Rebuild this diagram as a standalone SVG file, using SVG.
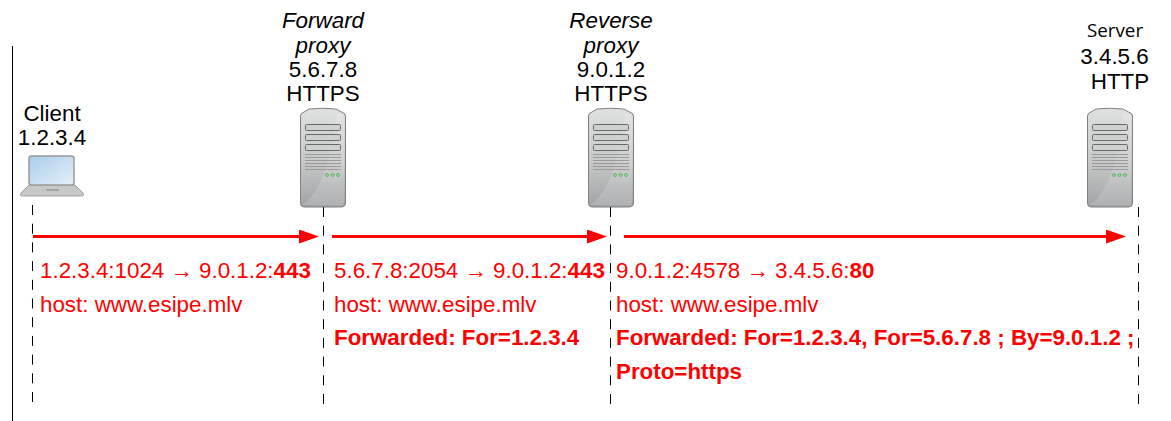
<svg xmlns="http://www.w3.org/2000/svg" xmlns:xlink="http://www.w3.org/1999/xlink" width="1171" height="421" viewBox="0 0 1171 421">
<style>
text{font-family:"Liberation Sans",Arial,sans-serif;fill:#000}
.h{font-size:22.4px;text-anchor:middle}
.i{font-style:italic}
.r{font-size:22.35px;fill:#f00}
.b{font-weight:bold}
.life{stroke:#000;stroke-width:1;stroke-dasharray:10 8.7;fill:none}
.arrow{stroke:#f00;stroke-width:3;fill:none;marker-end:url(#ah)}
</style>
<defs>
<marker id="ah" markerUnits="userSpaceOnUse" markerWidth="21" markerHeight="14" refX="0" refY="7" orient="auto"><path d="M0 0L20 7L0 14Z" fill="#f00"/></marker>
<linearGradient id="sv" x1="0" x2="0" y1="0" y2="1"><stop offset="0" stop-color="#dfe1e1"/><stop offset="0.55" stop-color="#c6c8c8"/><stop offset="1" stop-color="#a0a2a4"/></linearGradient>
<linearGradient id="sc" x1="0" x2="1" y1="0" y2="1"><stop offset="0" stop-color="#a9cdec"/><stop offset="1" stop-color="#e6f0f8"/></linearGradient>
<g id="srv">
<path d="M1.500 8Q1.500 5 5 4L10 1Q24 -0.500 37 1L42.500 4Q46.500 5 46.500 8V95Q46.500 99 42.500 99H5Q1.500 99 1.500 95Z" fill="url(#sv)" stroke="#808080" stroke-width="1"/>
<path d="M3 97Q30 80 37 6L43 6Q45 6 45 9V95Q45 97.500 43 97.500Z" fill="#fff" opacity="0.150"/>
<g fill="#cfd1d1" stroke="#6a6a6a" stroke-width="1"><rect x="6.500" y="16.500" width="35" height="6" rx="1"/><rect x="6.500" y="26.500" width="35" height="6" rx="1"/><rect x="6.500" y="36.500" width="35" height="6" rx="1"/></g>
<path d="M6 46.500H42M6 49.500H42M6 52.500H42M6 55.500H42M6 58.500H42M6 61.500H42" stroke="#9a9a9a" stroke-width="1" fill="none"/>
<g fill="#a5d6a0" stroke="#4fae5a" stroke-width="0.800"><circle cx="28" cy="67" r="1.500"/><circle cx="33.500" cy="67" r="1.500"/><circle cx="39" cy="67" r="1.500"/></g>
</g>
</defs>
<path d="M12.500 46V421" stroke="#000" stroke-width="1" fill="none"/>
<g id="client">
<text class="h" x="52" y="121">Client</text>
<text class="h" x="52" y="145">1.2.3.4</text>
<path d="M29 185L21 193Q19 196 23 196H81Q85 196 83 193L75 185Z" fill="#c6c8c8" stroke="#a0a0a0" stroke-width="1"/>
<rect x="46" y="189" width="13" height="2" fill="#a5a5a5"/>
<rect x="29" y="156" width="45" height="29" rx="2.500" fill="url(#sc)" stroke="#9a9a9a" stroke-width="1.500"/>
</g>
<g id="forward-proxy">
<text class="h i" x="323" y="28">Forward</text>
<text class="h i" x="323" y="52.500">proxy</text>
<text class="h" x="323" y="77">5.6.7.8</text>
<text class="h" x="323" y="101">HTTPS</text>
<use xlink:href="#srv" href="#srv" x="299" y="108"/>
</g>
<g id="reverse-proxy">
<text class="h i" x="611" y="28">Reverse</text>
<text class="h i" x="611" y="52.500">proxy</text>
<text class="h" x="611" y="77">9.0.1.2</text>
<text class="h" x="611" y="101">HTTPS</text>
<use xlink:href="#srv" href="#srv" x="587" y="108"/>
</g>
<g id="server">
<text x="1115" y="36.500" style="font-family:'Open Sans','Noto Sans',sans-serif;font-size:18.800px;text-anchor:middle">Server</text>
<text class="h" x="1114.500" y="64">3.4.5.6</text>
<text class="h" x="1120" y="89">HTTP</text>
<use xlink:href="#srv" href="#srv" x="1086" y="108"/>
</g>
<g id="connectors">
<path class="life" d="M32.500 205V405"/>
<path class="life" d="M323.500 207V405"/>
<path class="life" d="M610.500 207V405"/>
<path class="life" d="M1138.500 207V405"/>
<path class="arrow" d="M33 236.500H299"/>
<path class="arrow" d="M332 236.500H587"/>
<path class="arrow" d="M624 236.500H1106"/>
</g>
<g id="labels">
<text class="r" x="40" y="278">1.2.3.4:1024 → 9.0.1.2:<tspan class="b">443</tspan></text>
<text class="r" x="40" y="312">host: www.esipe.mlv</text>
<text class="r" x="334" y="278">5.6.7.8:2054 → 9.0.1.2:<tspan class="b">443</tspan></text>
<text class="r" x="334" y="312">host: www.esipe.mlv</text>
<text class="r b" x="334" y="345">Forwarded: For=1.2.3.4</text>
<text class="r" x="616" y="278">9.0.1.2:4578 → 3.4.5.6:<tspan class="b">80</tspan></text>
<text class="r" x="616" y="312">host: www.esipe.mlv</text>
<text class="r b" x="616" y="345">Forwarded: For=1.2.3.4, For=5.6.7.8 ; By=9.0.1.2 ;</text>
<text class="r b" x="616" y="379">Proto=https</text>
</g>
</svg>
